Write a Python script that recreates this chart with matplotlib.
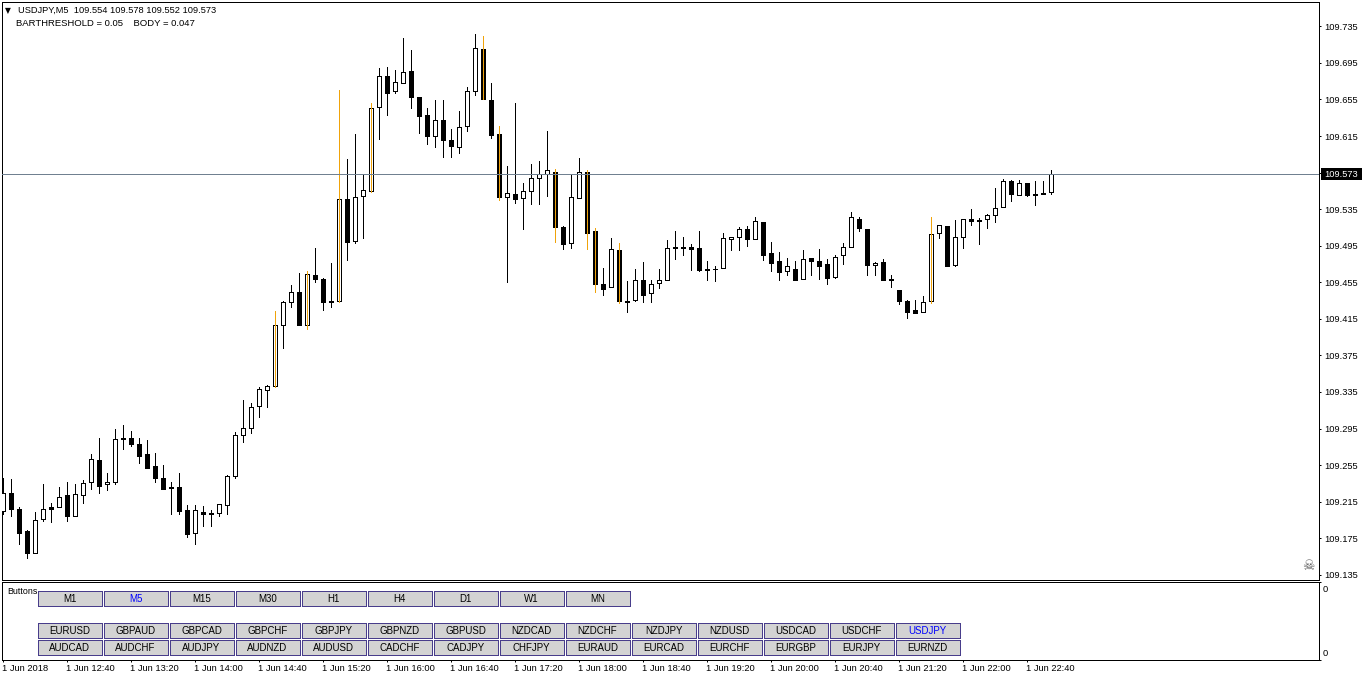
import numpy as np
import matplotlib
matplotlib.use('Agg')
import matplotlib.pyplot as plt
from matplotlib.patches import Rectangle

# USDJPY M5 bars, prices as thousandths above 109.000
opens_pts = [205,225,207,183,159,196,209,209,222,199,222,236,261,234,236,284,285,278,267,254,
             241,231,231,206,181,204,201,203,211,243,288,296,320,337,341,408,433,444,408,463,
             459,434,435,546,500,549,555,647,681,664,673,686,658,638,615,633,611,603,626,664,
             710,654,617,548,552,547,555,569,573,576,516,498,547,576,511,453,450,490,435,436,
             458,443,454,457,494,494,494,492,468,470,471,502,505,513,502,521,487,478,467,470,
             459,482,478,475,461,485,494,524,513,474,477,459,446,435,425,422,434,509,517,474,
             505,524,522,524,529,537,566,551,564,552,553,554]
closes_pts = [225,207,181,159,195,207,207,220,199,223,235,262,232,236,284,285,278,265,252,241,
              229,230,205,180,206,201,203,212,243,288,296,319,338,341,408,433,444,408,464,459,
              433,433,546,499,548,556,646,681,662,674,685,658,637,615,632,611,604,625,664,711,
              655,616,548,553,546,555,569,573,578,516,497,548,576,509,453,448,491,434,433,457,
              441,453,457,492,492,493,491,468,470,469,503,504,513,502,522,485,476,466,473,458,
              481,478,473,460,483,494,526,514,474,476,457,457,434,423,421,433,508,518,473,505,
              524,522,523,529,536,566,552,564,550,551,552,573]
highs_pts = [241,240,209,184,204,234,214,231,236,234,239,267,285,246,295,299,292,285,282,268,
             255,236,246,211,211,210,206,212,244,291,326,323,340,343,424,435,452,465,467,493,
             460,476,665,590,617,572,651,689,690,687,722,709,658,646,654,654,623,642,669,727,
             724,673,626,582,651,564,584,588,620,579,517,573,591,578,514,471,503,498,456,469,
             477,458,470,501,511,505,497,511,478,473,509,505,516,517,526,521,499,488,482,478,
             490,482,491,481,485,498,532,526,513,477,480,463,447,436,436,440,526,518,517,523,
             524,535,525,530,558,568,567,567,564,566,566,578]
lows_pts = [202,199,169,153,159,194,193,209,194,199,214,229,224,228,234,273,276,257,252,237,
            229,201,201,176,169,188,188,199,201,241,280,290,308,319,340,383,428,408,404,455,
            425,428,433,479,498,503,554,612,638,662,673,646,618,606,603,592,592,596,620,660,
            655,613,545,455,542,513,541,541,549,499,491,493,547,491,444,441,450,432,423,435,
            433,433,449,457,480,485,468,467,458,456,471,490,490,495,502,479,467,457,463,458,
            459,463,459,453,460,475,494,511,463,463,457,450,431,416,421,422,432,503,473,473,
            493,518,497,514,521,537,544,551,549,539,552,552]
flagged_bars = [34, 38, 42, 46, 60, 62, 69, 73, 74, 77, 116]
bid_price = 109.573

price_ticks = [109.135, 109.175, 109.215, 109.255, 109.295, 109.335, 109.375, 109.415,
               109.455, 109.495, 109.535, 109.575, 109.615, 109.655, 109.695, 109.735]
time_ticks = [0, 8, 16, 24, 32, 40, 48, 56, 64, 72, 80, 88, 96, 104, 112, 120, 128]
time_labels = ['1 Jun 2018', '1 Jun 12:40', '1 Jun 13:20', '1 Jun 14:00', '1 Jun 14:40', '1 Jun 15:20',
               '1 Jun 16:00', '1 Jun 16:40', '1 Jun 17:20', '1 Jun 18:00', '1 Jun 18:40', '1 Jun 19:20',
               '1 Jun 20:00', '1 Jun 20:40', '1 Jun 21:20', '1 Jun 22:00', '1 Jun 22:40']

period_buttons = ['M1', 'M5', 'M15', 'M30', 'H1', 'H4', 'D1', 'W1', 'MN']
symbols_top = ['EURUSD', 'GBPAUD', 'GBPCAD', 'GBPCHF', 'GBPJPY', 'GBPNZD', 'GBPUSD',
               'NZDCAD', 'NZDCHF', 'NZDJPY', 'NZDUSD', 'USDCAD', 'USDCHF', 'USDJPY']
symbols_bottom = ['AUDCAD', 'AUDCHF', 'AUDJPY', 'AUDNZD', 'AUDUSD', 'CADCHF', 'CADJPY',
                  'CHFJPY', 'EURAUD', 'EURCAD', 'EURCHF', 'EURGBP', 'EURJPY', 'EURNZD']

plt.rcParams['font.family'] = ['Liberation Sans', 'DejaVu Sans']
W, H = 1362, 681
FS = 6.7
PX = 0.72  # one pixel in points at 100 dpi


def box(left, top, right, bottom):
    return [left / W, 1 - bottom / H, (right - left) / W, (bottom - top) / H]


opens = 109 + np.array(opens_pts) / 1000
closes = 109 + np.array(closes_pts) / 1000
highs = 109 + np.array(highs_pts) / 1000
lows = 109 + np.array(lows_pts) / 1000
x = np.arange(len(opens))
up = closes >= opens

fig = plt.figure(figsize=(W / 100, H / 100), dpi=100, facecolor='white')
ax = fig.add_axes(box(2, 2, 1319, 580))
sub = fig.add_axes(box(2, 582, 1319, 660))

ax.vlines(x, lows, highs, color='black', linewidth=PX, antialiased=False, zorder=2)
ax.bar(x[up], (closes - opens)[up], bottom=opens[up], width=0.55, facecolor='white',
       edgecolor='black', linewidth=PX, antialiased=False, zorder=3)
ax.bar(x[~up], (opens - closes)[~up], bottom=closes[~up], width=0.55, facecolor='black',
       edgecolor='black', linewidth=PX, antialiased=False, zorder=3)
ax.vlines(x[flagged_bars], lows[flagged_bars], highs[flagged_bars], color='#f0a30a',
          linewidth=PX, antialiased=False, zorder=4)
ax.axhline(bid_price, color='#708090', linewidth=PX, antialiased=False, zorder=5)

# candle i sits on pixel 3 + 8i
ax.set_xlim(-1 / 8, (1319 - 3) / 8)
ax.set_ylim(109.7638 - 0.001094 * 580, 109.7638 - 0.001094 * 2)
ax.set_xticks([])
ax.yaxis.tick_right()
ax.set_yticks(price_ticks)
# 109.575 sits under the black bid label
ax.set_yticklabels(['' if p == 109.575 else '%.3f' % p for p in price_ticks], fontsize=FS, color='black')
ax.tick_params(axis='y', length=1.5, width=PX, pad=2.5)

# labels start half a pixel left of the candle column
sub.set_xlim(-0.5 / 8, (1319 - 2.5) / 8)
sub.set_ylim(0, 1)
sub.yaxis.tick_right()
sub.set_yticks([0, 1])
sub.set_yticklabels([])
sub.tick_params(axis='y', length=1.5, width=PX)
sub.set_xticks(time_ticks)
sub.set_xticklabels(time_labels, fontsize=FS, ha='left', color='black')
sub.tick_params(axis='x', length=1.5, width=PX, pad=1.5)

for a in (ax, sub):
    for s in a.spines.values():
        s.set_linewidth(PX)
        s.set_antialiased(False)

# overlay in screen pixels for the terminal's widgets
ui = fig.add_axes([0, 0, 1, 1], zorder=10)
ui.set_xlim(0, W)
ui.set_ylim(H, 0)
ui.axis('off')
ui.patch.set_alpha(0)


def button(left, top, label, color='black'):
    ui.add_patch(Rectangle((left, top), 64, 15, facecolor='#d3d3d3', edgecolor='#483d8b',
                           linewidth=PX, antialiased=False))
    ui.text(left + 31.5, top + 8, label, ha='center', va='center', fontsize=7.0, color=color)


for i, name in enumerate(period_buttons):
    button(38 + 66 * i, 591, name, 'blue' if name == 'M5' else 'black')
for i, name in enumerate(symbols_top):
    button(38 + 66 * i, 623, name, 'blue' if name == 'USDJPY' else 'black')
for i, name in enumerate(symbols_bottom):
    button(38 + 66 * i, 640, name)

ui.text(7, 591.5, 'Buttons', fontsize=6.4, va='center', color='black')
ui.text(8, 10.5, '\u25bc', fontsize=5.5, ha='center', va='center', family='DejaVu Sans', color='black')
ui.text(18, 10.5, 'USDJPY,M5  109.554 109.578 109.552 109.573', fontsize=FS, va='center', color='black')
ui.text(16, 23.5, 'BARTHRESHOLD = 0.05    BODY = 0.047', fontsize=6.8, va='center', color='black')
ui.text(1308, 566, '\u2620', fontsize=10, ha='center', va='center', family='DejaVu Sans', color='#606060')

ui.add_patch(Rectangle((1321, 168), 41, 12, facecolor='black', edgecolor='none'))
ui.text(1341.5, 174.3, '%.3f' % bid_price, fontsize=FS, ha='center', va='center', color='white')
ui.text(1323, 589.5, '0', fontsize=FS, va='center', color='black')
ui.text(1323, 653.5, '0', fontsize=FS, va='center', color='black')

fig.savefig('out.png', dpi=100, facecolor='white')
